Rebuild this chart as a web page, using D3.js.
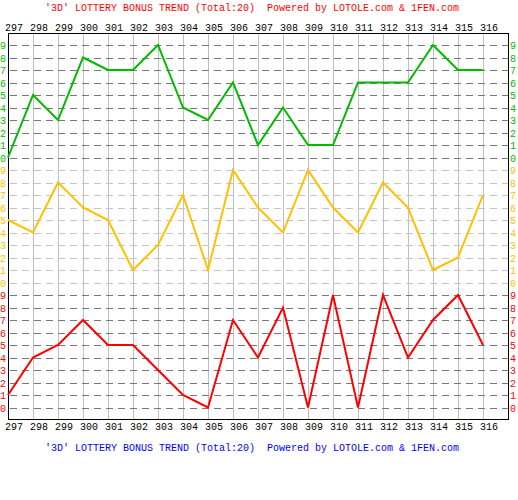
<!DOCTYPE html>
<html>
<head>
<meta charset="utf-8">
<script src="https://cdn.jsdelivr.net/npm/d3@7"></script>
<style>
  html, body { margin: 0; padding: 0; background: #ffffff; }
  svg { display: block; }
  text { font-family: "Liberation Mono", "DejaVu Sans Mono", monospace; font-size: 10px; }
</style>
</head>
<body>
<svg id="chart" width="518" height="500"></svg>
<script>
// ---- data ----
const periods = [297, 298, 299, 300, 301, 302, 303, 304, 305, 306, 307, 308, 309, 310, 311, 312, 313, 314, 315, 316];
const greenValues  = [0, 5, 3, 8, 7, 7, 9, 4, 3, 6, 1, 4, 1, 1, 6, 6, 6, 9, 7, 7];
const yellowValues = [5, 4, 8, 6, 5, 1, 3, 7, 1, 9, 6, 4, 9, 6, 4, 8, 6, 1, 2, 7];
const redValues    = [1, 4, 5, 7, 5, 5, 3, 1, 0, 7, 4, 8, 0, 9, 0, 9, 4, 7, 9, 5];
const digitTicks   = [0, 1, 2, 3, 4, 5, 6, 7, 8, 9];
const titleText = "'3D' LOTTERY BONUS TREND (Total:20)  Powered by LOTOLE.com & 1FEN.com";

// ---- styling / layout ----
const colors = ["#00bb00", "#ffc000", "#ff0000"];
const gridDash = ["#787878", "#c4c4c4", "#787878"];
const series = [greenValues, yellowValues, redValues];

const svg = d3.select("#chart");
const plotLeft = 8, plotRight = 508, plotTop = 33, plotBottom = 420;

const x = d3.scaleLinear().domain([0, periods.length]).range([plotLeft, plotRight]);
const blockY = [0, 1, 2].map(b =>
  d3.scaleLinear().domain([9, 0]).range([45 + b * 125, 45 + b * 125 + 112.5]));
const px = v => Math.round(v) + 0.5;

// vertical grid
svg.append("g").selectAll("line").data(periods.slice(1)).join("line")
  .attr("x1", (d, i) => px(x(i + 1))).attr("x2", (d, i) => px(x(i + 1)))
  .attr("y1", plotTop).attr("y2", plotBottom)
  .attr("stroke", "#c0c0c0").attr("stroke-width", 1)
  .attr("shape-rendering", "crispEdges");

// horizontal dashed grid per block
[0, 1, 2].forEach(b => {
  svg.append("g").selectAll("line").data(digitTicks).join("line")
    .attr("x1", plotLeft + 2).attr("x2", plotRight)
    .attr("y1", d => px(blockY[b](d))).attr("y2", d => px(blockY[b](d)))
    .attr("stroke", gridDash[b]).attr("stroke-width", 1)
    .attr("stroke-dasharray", "7,5")
    .attr("shape-rendering", "crispEdges");
});

// border
svg.append("rect")
  .attr("x", plotLeft + 0.5).attr("y", plotTop + 0.5)
  .attr("width", plotRight - plotLeft).attr("height", plotBottom - plotTop - 1)
  .attr("fill", "none").attr("stroke", "#000").attr("stroke-width", 1)
  .attr("shape-rendering", "crispEdges");

// series lines
[0, 1, 2].forEach(b => {
  const line = d3.line()
    .x((d, i) => x(i))
    .y(d => blockY[b](d));
  svg.append("path").datum(series[b])
    .attr("d", line)
    .attr("fill", "none").attr("stroke", colors[b]).attr("stroke-width", 2)
    .attr("stroke-linejoin", "miter");
});

// side labels
[0, 1, 2].forEach(b => {
  svg.append("g").selectAll("text").data(digitTicks).join("text")
    .attr("x", 0).attr("y", d => Math.round(blockY[b](d)) + 4)
    .attr("fill", colors[b]).text(d => d);
  svg.append("g").selectAll("text").data(digitTicks).join("text")
    .attr("x", 510).attr("y", d => Math.round(blockY[b](d)) + 4)
    .attr("fill", colors[b]).text(d => d);
});

// period labels top & bottom
svg.append("g").selectAll("text").data(periods).join("text")
  .attr("x", (d, i) => x(i) - 3).attr("y", 31).attr("fill", "#000").text(d => d);
svg.append("g").selectAll("text").data(periods).join("text")
  .attr("x", (d, i) => x(i) - 3).attr("y", 430).attr("fill", "#000").text(d => d);

// titles
svg.append("text").attr("x", 45).attr("y", 11).attr("fill", "#ff0000")
  .attr("xml:space", "preserve").style("white-space", "pre").text(titleText);
svg.append("text").attr("x", 45).attr("y", 451).attr("fill", "#0000ff")
  .attr("xml:space", "preserve").style("white-space", "pre").text(titleText);
</script>
</body>
</html>
